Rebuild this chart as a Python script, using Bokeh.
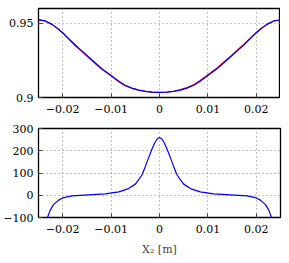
from bokeh.plotting import figure
from bokeh.layouts import column
from bokeh.models import FixedTicker, Range1d
from bokeh.embed import file_html
from bokeh.resources import INLINE

# ---- data ----
x_top = [-0.025, -0.0236, -0.0222, -0.0209, -0.02, -0.0188, -0.0174, -0.016, -0.0147, -0.0133,
         -0.0119, -0.01, -0.0084, -0.0071, -0.0057, -0.0043, -0.0029, -0.0016, 0.0,
         0.0016, 0.0029, 0.0043, 0.0057, 0.0071, 0.0084, 0.01, 0.0119, 0.0133, 0.0147,
         0.016, 0.0174, 0.0188, 0.02, 0.0209, 0.0222, 0.0236, 0.025]
y_top_blue = [0.9523, 0.9516, 0.9493, 0.9462, 0.9437, 0.9399, 0.9354, 0.9313, 0.9275, 0.9234,
              0.9194, 0.9149, 0.9110, 0.9083, 0.9063, 0.9050, 0.9041, 0.9036, 0.9034,
              0.9036, 0.9041, 0.9050, 0.9063, 0.9083, 0.9110, 0.9149, 0.9194, 0.9234, 0.9275,
              0.9313, 0.9354, 0.9399, 0.9437, 0.9462, 0.9493, 0.9516, 0.9523]
y_top_red = [0.9523, 0.9516, 0.9493, 0.9461, 0.9435, 0.9395, 0.9349, 0.9309, 0.9271, 0.9229,
             0.9190, 0.9147, 0.9106, 0.9080, 0.9062, 0.9050, 0.9041, 0.9036, 0.9034,
             0.9036, 0.9042, 0.9053, 0.9067, 0.9088, 0.9114, 0.9154, 0.9199, 0.9239, 0.9279,
             0.9317, 0.9357, 0.9401, 0.9438, 0.9463, 0.9493, 0.9516, 0.9523]

x_bot = [-0.0235, -0.0231, -0.0226, -0.0219, -0.0209, -0.02, -0.0181, -0.0147, -0.0112,
         -0.0084, -0.0064, -0.005, -0.0043, -0.0036, -0.003, -0.0024, -0.0017, -0.001, -0.0005, 0.0,
         0.0005, 0.001, 0.0017, 0.0024, 0.003, 0.0036, 0.0043, 0.005, 0.0064, 0.0084,
         0.0112, 0.0147, 0.0181, 0.02, 0.0209, 0.0219, 0.0226, 0.0231, 0.0235]
y_bot = [-130, -98, -68, -42, -23, -12, -3, 2, 6,
         15, 30, 50, 70, 92, 125, 160, 200, 235, 253, 260,
         253, 235, 200, 160, 125, 92, 70, 50, 30, 15,
         6, 2, -3, -12, -23, -42, -68, -98, -130]

x_ticks = [-0.02, -0.01, 0, 0.01, 0.02]
x_tick_labels = {-0.02: "\u22120.02", -0.01: "\u22120.01", 0: "0", 0.01: "0.01", 0.02: "0.02"}
top_ticks = [0.9, 0.95]
top_tick_labels = {0.9: "0.9", 0.95: "0.95"}
bot_ticks = [-100, 0, 100, 200, 300]
bot_tick_labels = {-100: "\u2212100", 0: "0", 100: "100", 200: "200", 300: "300"}

FONT = "DejaVu Serif"
FS = "11px"


def style(p, yticks, ylabels):
    p.outline_line_color = "black"
    p.outline_line_width = 1.3
    p.background_fill_color = "white"
    p.border_fill_color = "white"
    xa = p.below[0]
    ya = p.left[0]
    for ax in (xa, ya):
        ax.major_tick_in = 4
        ax.major_tick_out = 0
        ax.minor_tick_line_color = None
        ax.axis_line_color = None
        ax.major_label_text_font = FONT
        ax.major_label_text_font_size = FS
        ax.major_label_text_color = "black"
        ax.major_tick_line_color = "#444444"
    xa.ticker = FixedTicker(ticks=x_ticks)
    xa.major_label_overrides = x_tick_labels
    xa.major_label_standoff = 7
    ya.ticker = FixedTicker(ticks=yticks)
    ya.major_label_overrides = ylabels
    ya.major_label_standoff = 5
    for g in (p.xgrid[0], p.ygrid[0]):
        g.grid_line_color = "#888888"
        g.grid_line_dash = "1 3"
        g.grid_line_width = 1
    p.xgrid[0].ticker = FixedTicker(ticks=x_ticks)
    p.ygrid[0].ticker = FixedTicker(ticks=yticks)


p1 = figure(frame_width=242, frame_height=89, output_backend="svg", toolbar_location=None,
            x_range=Range1d(-0.025, 0.025), y_range=Range1d(0.9, 0.96),
            min_border_left=36, min_border_right=2, min_border_top=8, min_border_bottom=20)
p1.line(x_top, y_top_red, line_color="#ff0000", line_width=1.2)
p1.line(x_top, y_top_blue, line_color="#0000ff", line_width=1.2)
style(p1, top_ticks, top_tick_labels)

p2 = figure(frame_width=242, frame_height=89, output_backend="svg", toolbar_location=None,
            x_range=Range1d(-0.025, 0.025), y_range=Range1d(-100, 300),
            min_border_left=36, min_border_right=2, min_border_top=11, min_border_bottom=0)
p2.line(x_bot, y_bot, line_color="#0000ff", line_width=1.2)
style(p2, bot_ticks, bot_tick_labels)
xb = p2.below[0]
xb.axis_label = "X\u2082 [m]"
xb.axis_label_text_font = FONT
xb.axis_label_text_font_size = FS
xb.axis_label_text_font_style = "normal"
xb.axis_label_standoff = 7

layout = column(p1, p2, spacing=0)
open("out.html", "w").write(file_html(layout, INLINE))
